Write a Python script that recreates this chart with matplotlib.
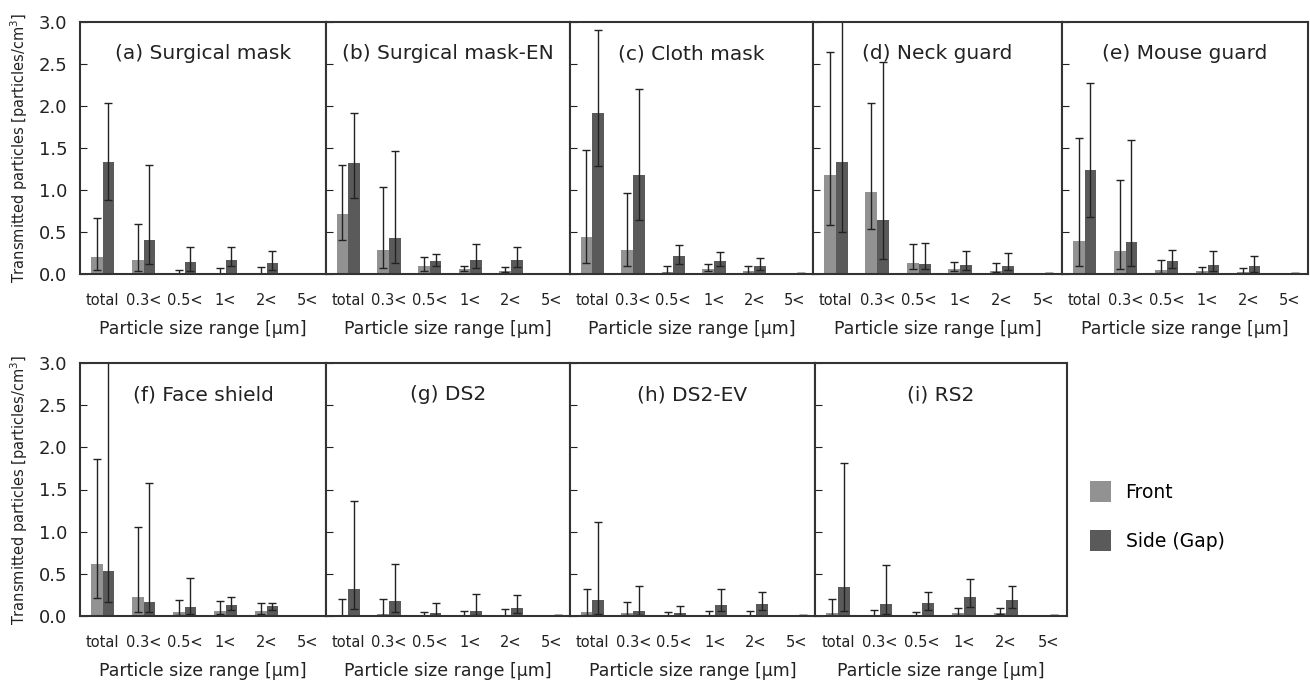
import matplotlib
matplotlib.use("Agg")
import matplotlib.pyplot as plt
import numpy as np

plt.rcParams['font.family'] = ['DejaVu Sans']

categories = ['total', '0.3<', '0.5<', '1<', '2<', '5<']
titles = ['(a) Surgical mask', '(b) Surgical mask-EN', '(c) Cloth mask',
          '(d) Neck guard', '(e) Mouse guard', '(f) Face shield',
          '(g) DS2', '(h) DS2-EV', '(i) RS2']

# mean value, lower and upper end of the error bar, one row per panel
front_mean = [
    [0.20, 0.17, 0.005, 0.01, 0.015, 0.0],
    [0.72, 0.28, 0.09, 0.06, 0.04, 0.0],
    [0.44, 0.29, 0.02, 0.055, 0.03, 0.005],
    [1.18, 0.98, 0.13, 0.055, 0.035, 0.003],
    [0.39, 0.27, 0.045, 0.03, 0.02, 0.0],
    [0.62, 0.22, 0.05, 0.065, 0.065, 0.0],
    [0.01, 0.02, 0.005, 0.005, 0.008, 0.0],
    [0.05, 0.03, 0.005, 0.008, 0.008, 0.0],
    [0.03, 0.005, 0.008, 0.03, 0.04, 0.0],
]
front_lo = [
    [0.05, 0.04, 0.0, 0.0, 0.0, 0.0],
    [0.40, 0.075, 0.04, 0.04, 0.02, 0.0],
    [0.13, 0.09, 0.01, 0.035, 0.01, 0.005],
    [0.58, 0.53, 0.055, 0.04, 0.025, 0.003],
    [0.09, 0.06, 0.01, 0.01, 0.005, 0.0],
    [0.21, 0.045, 0.01, 0.02, 0.025, 0.0],
    [0.0, 0.01, 0.0, 0.0, 0.0, 0.0],
    [0.01, 0.01, 0.0, 0.0, 0.0, 0.0],
    [0.01, 0.0, 0.0, 0.01, 0.02, 0.0],
]
front_hi = [
    [0.67, 0.60, 0.05, 0.075, 0.08, 0.0],
    [1.30, 1.03, 0.20, 0.10, 0.08, 0.0],
    [1.48, 0.97, 0.10, 0.115, 0.09, 0.005],
    [2.64, 2.03, 0.36, 0.14, 0.13, 0.003],
    [1.62, 1.12, 0.17, 0.08, 0.075, 0.0],
    [1.86, 1.06, 0.19, 0.18, 0.15, 0.0],
    [0.20, 0.20, 0.05, 0.06, 0.08, 0.0],
    [0.32, 0.17, 0.05, 0.065, 0.06, 0.0],
    [0.20, 0.07, 0.045, 0.10, 0.10, 0.0],
]
side_mean = [
    [1.33, 0.40, 0.14, 0.17, 0.13, 0.005],
    [1.32, 0.43, 0.16, 0.165, 0.17, 0.005],
    [1.92, 1.18, 0.21, 0.15, 0.10, 0.01],
    [1.33, 0.64, 0.115, 0.105, 0.095, 0.008],
    [1.24, 0.38, 0.15, 0.11, 0.09, 0.008],
    [0.53, 0.17, 0.11, 0.135, 0.12, 0.005],
    [0.32, 0.18, 0.03, 0.065, 0.10, 0.008],
    [0.19, 0.065, 0.03, 0.135, 0.145, 0.01],
    [0.345, 0.14, 0.15, 0.22, 0.19, 0.008],
]
side_lo = [
    [0.88, 0.12, 0.04, 0.10, 0.05, 0.005],
    [0.91, 0.13, 0.10, 0.075, 0.08, 0.005],
    [1.29, 0.64, 0.12, 0.09, 0.05, 0.01],
    [0.50, 0.18, 0.055, 0.05, 0.045, 0.008],
    [0.68, 0.09, 0.07, 0.04, 0.025, 0.008],
    [0.17, 0.045, 0.025, 0.07, 0.07, 0.005],
    [0.08, 0.05, 0.01, 0.012, 0.04, 0.008],
    [0.025, 0.01, 0.01, 0.055, 0.07, 0.01],
    [0.065, 0.025, 0.07, 0.11, 0.10, 0.008],
]
side_hi = [
    [2.04, 1.30, 0.32, 0.32, 0.27, 0.005],
    [1.92, 1.47, 0.24, 0.36, 0.32, 0.005],
    [2.90, 2.20, 0.35, 0.26, 0.19, 0.01],
    [3.30, 2.52, 0.37, 0.27, 0.25, 0.008],
    [2.27, 1.59, 0.29, 0.27, 0.21, 0.008],
    [3.30, 1.58, 0.45, 0.23, 0.16, 0.005],
    [1.36, 0.62, 0.15, 0.26, 0.25, 0.008],
    [1.12, 0.36, 0.12, 0.32, 0.28, 0.01],
    [1.81, 0.60, 0.28, 0.44, 0.36, 0.008],
]

FRONT = '#929292'
SIDE = '#5a5a5a'

W, H = 1310, 684
fig = plt.figure(figsize=(W / 100, H / 100), dpi=100)

# panel boxes in pixels: left, right, top, bottom
boxes = [
    (80, 326, 22, 274), (326, 570, 22, 274), (570, 813, 22, 274),
    (813, 1062, 22, 274), (1062, 1308, 22, 274),
    (80, 326, 363, 616), (326, 570, 363, 616), (570, 815, 363, 616),
    (815, 1067, 363, 616),
]

x = np.arange(len(categories))
bw = 0.29
for i, (l, r, t, b) in enumerate(boxes):
    ax = fig.add_axes([l / W, 1 - b / H, (r - l) / W, (b - t) / H])
    fm = np.array(front_mean[i])
    sm = np.array(side_mean[i])
    ferr = [fm - np.array(front_lo[i]), np.array(front_hi[i]) - fm]
    serr = [sm - np.array(side_lo[i]), np.array(side_hi[i]) - sm]
    ax.bar(x - bw / 2, fm, bw, color=FRONT, label='Front')
    ax.bar(x + bw / 2, sm, bw, color=SIDE, label='Side (Gap)')
    ax.errorbar(x - bw / 2, fm, yerr=ferr, fmt='none', ecolor='#222222',
                elinewidth=1, capsize=3, capthick=1)
    ax.errorbar(x + bw / 2, sm, yerr=serr, fmt='none', ecolor='#222222',
                elinewidth=1, capsize=3, capthick=1)
    ax.set_xlim(-0.55, 5.45)
    ax.set_ylim(0, 3.0)
    ax.set_yticks(np.arange(0, 3.01, 0.5))
    ax.set_xticks(x)
    ax.set_xticklabels(categories, fontsize=10.5)
    ax.tick_params(axis='x', length=0, pad=14, colors='#222222')
    ax.tick_params(axis='y', direction='in', length=5, labelsize=13,
                   pad=9, colors='#222222')
    for sp in ax.spines.values():
        sp.set_linewidth(1.5)
        sp.set_color('#333333')
    ax.set_title(titles[i], fontsize=14.5, y=0.82, color='#222222')
    ax.set_xlabel('Particle size range [\u03bcm]', fontsize=12.5, labelpad=8,
                  color='#222222')
    if i in (0, 5):
        ax.set_yticklabels(['0.0', '0.5', '1.0', '1.5', '2.0', '2.5', '3.0'])
        ax.set_ylabel('Transmitted particles [particles/cm$^3$]', fontsize=10.5,
                      labelpad=6, color='#222222')
    else:
        ax.set_yticklabels([])
    if i == 0:
        handles, labels = ax.get_legend_handles_labels()

fig.legend(handles, labels, loc='center left',
           bbox_to_anchor=(1073 / W, 1 - 516 / H), frameon=False,
           fontsize=13.5, handlelength=1.1, handleheight=1.3,
           labelspacing=1.5, handletextpad=0.8)

fig.savefig('out.png', dpi=100)
